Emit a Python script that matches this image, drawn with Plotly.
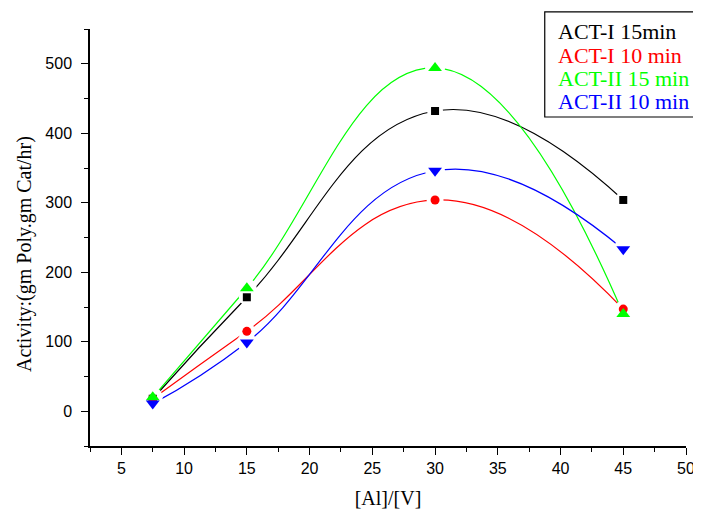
import plotly.graph_objects as go

x_ratio = [7.5, 15, 30, 45]
act1_15 = [18, 164, 432, 304]
act1_10 = [18, 115, 304, 147]
act2_15 = [20, 177, 494, 140]
act2_10 = [11, 99, 346, 233]

series = [
    ("ACT-I 15min", act1_15, "#000000", "square", 8),
    ("ACT-I 10 min", act1_10, "#ff0000", "circle", 9),
    ("ACT-II 15 min", act2_15, "#00ff00", "triangle-up", 12),
    ("ACT-II 10 min", act2_10, "#0000ff", "triangle-down", 12),
]
y_title = "Activity:(gm Poly.gm Cat/hr)"
x_title = "[Al]/[V]"

SERIF = "Liberation Serif, Times New Roman, serif"
SANS = "Liberation Sans, Arial, sans-serif"

fig = go.Figure()
for name, ys, col, sym, sz in series:
    fig.add_trace(go.Scatter(x=x_ratio, y=ys, mode="lines",
                             line=dict(color=col, width=1.2, shape="spline", smoothing=1.3),
                             showlegend=False, hoverinfo="skip"))
for name, ys, col, sym, sz in series:
    fig.add_trace(go.Scatter(x=x_ratio, y=ys, mode="markers",
                             marker=dict(color="white", symbol="circle", size=sz + 8),
                             showlegend=False, hoverinfo="skip"))
for name, ys, col, sym, sz in series:
    fig.add_trace(go.Scatter(x=x_ratio, y=ys, mode="markers", name=name,
                             marker=dict(color=col, symbol=sym, size=sz, line=dict(width=0)),
                             showlegend=False))

# legend box (text-only legend as in the reference)
fig.add_shape(type="rect", xref="paper", yref="paper",
              x0=0.763, x1=1.021, y0=0.789, y1=1.041,
              line=dict(color="black", width=1.2), fillcolor="white", layer="above")
legend_y = [0.993, 0.937, 0.881, 0.825]
for (name, ys, col, sym, sz), ly in zip(series, legend_y):
    fig.add_annotation(xref="paper", yref="paper", x=0.782, y=ly,
                       xanchor="left", yanchor="middle", text=name, showarrow=False,
                       font=dict(family=SERIF, size=22, color=col))

# y axis title placed as in the reference (slightly below the plot centre)
fig.add_annotation(xref="paper", yref="paper", x=-0.111, y=0.46, textangle=-90,
                   xanchor="center", yanchor="middle", text=y_title, showarrow=False,
                   font=dict(family=SERIF, size=20, color="black"))

axis_common = dict(showgrid=False, zeroline=False, automargin=False,
                   showline=True, linecolor="black", linewidth=1.5,
                   ticks="outside", ticklen=7, tickwidth=1.2, tickcolor="black",
                   tickfont=dict(family=SANS, size=16, color="black"))

# the page body adds an 8px margin; size the figure so the plot area lands where it should
fig.update_layout(
    width=693, height=501,
    margin=dict(l=82, r=15, t=21, b=63),
    plot_bgcolor="white", paper_bgcolor="white",
    xaxis=dict(range=[2.5, 50], dtick=5, tick0=5,
               minor=dict(dtick=2.5, ticks="outside", ticklen=4, tickcolor="black", showgrid=False),
               title=dict(text=x_title, standoff=17,
                          font=dict(family=SERIF, size=20, color="black")),
               **axis_common),
    yaxis=dict(range=[-50, 550], dtick=100, tick0=0, ticklabelstandoff=6,
               minor=dict(dtick=50, ticks="outside", ticklen=4, tickcolor="black", showgrid=False),
               **axis_common),
)

fig.write_html("out.html")
